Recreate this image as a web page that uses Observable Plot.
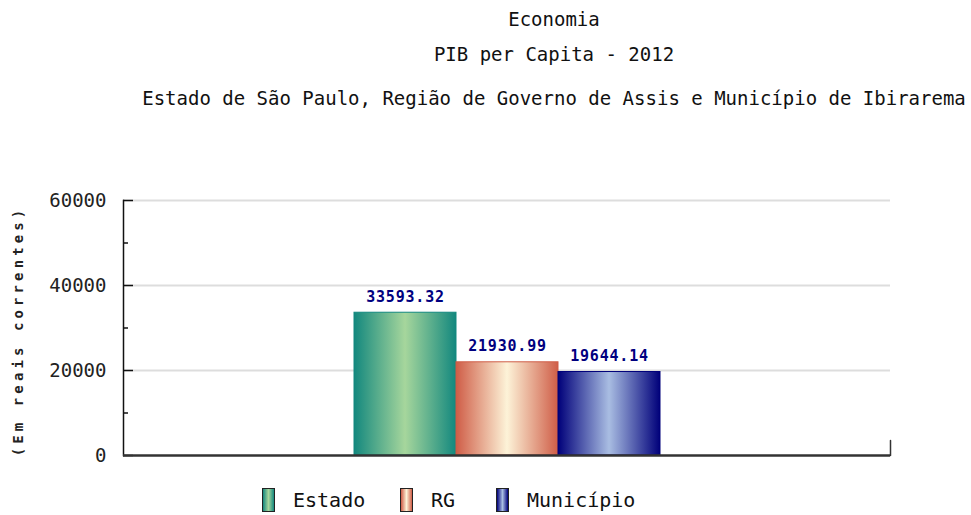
<!DOCTYPE html>
<html>
<head>
<meta charset="utf-8">
<script src="https://cdn.jsdelivr.net/npm/d3@7"></script>
<script src="https://cdn.jsdelivr.net/npm/@observablehq/plot@0.6"></script>
<style>
  body { margin: 0; background: #fff; }
  #wrap { position: relative; width: 971px; height: 515px; font-family: "DejaVu Sans Mono", "Liberation Mono", monospace; color: #111; }
  .t { position: absolute; left: 0; width: 1108px; text-align: center; font-size: 19px; white-space: nowrap; }
  #legend { position: absolute; top: 488px; left: 0; width: 971px; height: 27px; }
  .item { position: absolute; top: 0; display: flex; align-items: center; font-size: 20px; }
  .sw { width: 11px; height: 22px; border: 1px solid #222; margin-right: 18px; }
  svg { position: absolute; left: 0; top: 0; }
</style>
</head>
<body>
<div id="wrap">
  <div id="chart"></div>
</div>
<script>
const titleLines = ["Economia", "PIB per Capita - 2012", "Estado de São Paulo, Região de Governo de Assis e Município de Ibirarema"];
const categories = ["Estado", "RG", "Município"];
const values = [33593.32, 21930.99, 19644.14];
const yTicks = [0, 20000, 40000, 60000];
const yMinorTicks = [10000, 30000, 50000];
const yLabel = "(Em reais correntes)";
const edgeColors = ["#13887e", "#cf5d47", "#00007a"];
const centerColors = ["#a6d69c", "#fdf3d8", "#a9bde2"];

const data = categories.map((c, i) => ({category: c, value: values[i], idx: i}));

const wrap = document.getElementById("wrap");
const titleTops = [8, 43, 87];
titleLines.forEach((t, i) => {
  const d = document.createElement("div");
  d.className = "t";
  d.style.top = titleTops[i] + "px";
  d.textContent = t;
  wrap.appendChild(d);
});

const plot = Plot.plot({
  width: 971,
  height: 515,
  marginLeft: 123,
  marginRight: 81,
  marginTop: 200,
  marginBottom: 60,
  style: {fontFamily: "'DejaVu Sans Mono', monospace", background: "transparent"},
  x: {domain: categories, paddingInner: 0, paddingOuter: 2.23, axis: null},
  y: {domain: [0, 60000], axis: null},
  marks: [
    Plot.ruleY(yTicks.slice(1), {stroke: "#dddddd", strokeWidth: 2}),
    Plot.barY(data, {x: "category", y: "value", fill: d => `url(#grad${d.idx})`, stroke: d => edgeColors[d.idx], strokeWidth: 1}),
    Plot.axisY({ticks: yTicks, tickSize: 0, tickPadding: 17, tickFormat: d => String(d), fontSize: 19, fill: "#222", label: null}),
    Plot.axisY({ticks: yTicks, tickSize: -10, tickFormat: () => "", label: null, stroke: "#111", strokeWidth: 1.5}),
    Plot.axisY({ticks: yMinorTicks, tickSize: -5, tickFormat: () => "", label: null, stroke: "#111", strokeWidth: 1.5}),
    Plot.frame({anchor: "left", stroke: "#111", strokeWidth: 1.5}),
    Plot.ruleY([0], {stroke: "#333", strokeWidth: 2.5}),
    Plot.vector([0], {y: d => d, frameAnchor: "right", length: 15, anchor: "start", shape: "spike", r: 0, stroke: "#333", strokeWidth: 1.5}),
    Plot.text(data, {x: "category", y: "value", text: d => d.value.toFixed(2), dy: -16, fill: "#00007f", fontSize: 15, fontWeight: "bold"}),
    Plot.text([yLabel], {frameAnchor: "left", textAnchor: "middle", rotate: -90, dx: -105, dy: 3, fontSize: 14, fontWeight: "bold", fill: "#222"})
  ]
});

plot.querySelectorAll("text").forEach(t => {
  if (t.textContent === yLabel) t.style.letterSpacing = "4.1px";
  if (/^\d+\.\d\d$/.test(t.textContent)) t.style.letterSpacing = "0.8px";
});

const svgns = "http://www.w3.org/2000/svg";
const defs = document.createElementNS(svgns, "defs");
edgeColors.forEach((c, i) => {
  const g = document.createElementNS(svgns, "linearGradient");
  g.setAttribute("id", "grad" + i);
  g.setAttribute("x1", "0"); g.setAttribute("x2", "1"); g.setAttribute("y1", "0"); g.setAttribute("y2", "0");
  [[0, c], [0.5, centerColors[i]], [1, c]].forEach(([o, col]) => {
    const s = document.createElementNS(svgns, "stop");
    s.setAttribute("offset", o);
    s.setAttribute("stop-color", col);
    g.appendChild(s);
  });
  defs.appendChild(g);
});
plot.insertBefore(defs, plot.firstChild);
wrap.appendChild(plot);

// legend
const legend = document.createElement("div");
legend.id = "legend";
const legendLefts = [262, 400, 496];
categories.forEach((c, i) => {
  const it = document.createElement("div");
  it.className = "item";
  it.style.left = legendLefts[i] + "px";
  const sw = document.createElement("div");
  sw.className = "sw";
  sw.style.background = `linear-gradient(to right, ${edgeColors[i]}, ${centerColors[i]}, ${edgeColors[i]})`;
  const tx = document.createElement("span");
  tx.textContent = c;
  it.appendChild(sw); it.appendChild(tx);
  legend.appendChild(it);
});
wrap.appendChild(legend);
</script>
</body>
</html>
